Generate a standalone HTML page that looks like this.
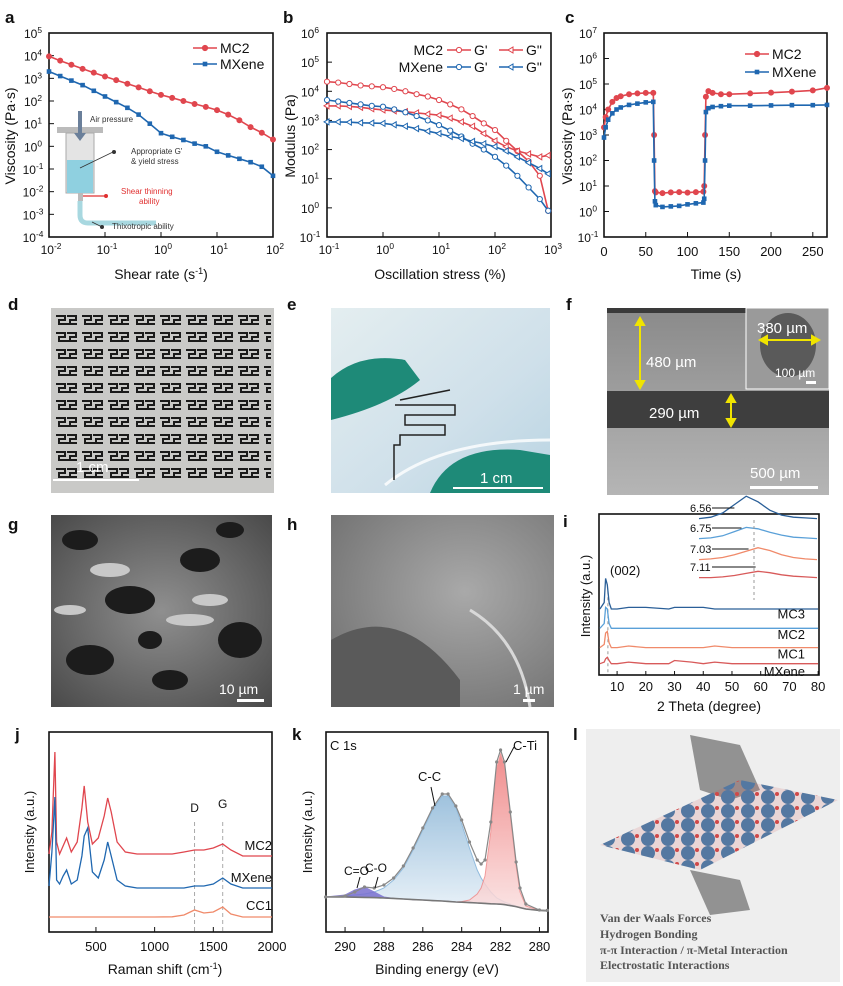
<!DOCTYPE html>
<html><head><meta charset="utf-8">
<style>
html,body{margin:0;padding:0;background:#fff;}
svg{display:block;font-family:"Liberation Sans",Arial,sans-serif;}
</style></head>
<body>
<svg id="fig" width="843" height="986" viewBox="0 0 843 986" xmlns="http://www.w3.org/2000/svg">
<defs>
<linearGradient id="gE" x1="0" y1="0" x2="1" y2="1"><stop offset="0" stop-color="#e4eef0"/><stop offset="0.6" stop-color="#cfe0ea"/><stop offset="1" stop-color="#b9d4e2"/></linearGradient>
<linearGradient id="gF" x1="0" y1="0" x2="0" y2="1"><stop offset="0" stop-color="#8a8a8a"/><stop offset="1" stop-color="#b5b5b5"/></linearGradient>
<radialGradient id="gG" cx="0.5" cy="0.5" r="0.7"><stop offset="0" stop-color="#8f8f8f"/><stop offset="1" stop-color="#4a4a4a"/></radialGradient>
<radialGradient id="gH" cx="0.6" cy="0.4" r="0.8"><stop offset="0" stop-color="#a9a9a9"/><stop offset="1" stop-color="#6e6e6e"/></radialGradient>
<linearGradient id="gCC" x1="0" y1="0" x2="0" y2="1"><stop offset="0" stop-color="#8fb8d8"/><stop offset="1" stop-color="#e6f0f8"/></linearGradient>
<linearGradient id="gTi" x1="0" y1="0" x2="0" y2="1"><stop offset="0" stop-color="#ee7b7b"/><stop offset="1" stop-color="#fbe0e0"/></linearGradient>
<pattern id="pS" x="53" y="312" width="26" height="17" patternUnits="userSpaceOnUse">
<path d="M3 4 h9 v4 h-6 v4 h10 M14 4 h9 v4 h-6 v4 h7" fill="none" stroke="#1a1a1a" stroke-width="2"/>
</pattern>
<pattern id="pBall" x="600" y="790" width="20" height="14" patternUnits="userSpaceOnUse">
<circle cx="8" cy="7" r="7" fill="#3f7fb0"/><circle cx="17" cy="4" r="2" fill="#d04848"/>
</pattern>
</defs>
</svg>
<script>
// ---------- data ----------
const aX = [-2,-1.8,-1.6,-1.4,-1.2,-1,-0.8,-0.6,-0.4,-0.2,0,0.2,0.4,0.6,0.8,1,1.2,1.4,1.6,1.8,2];
const aMC2 = [3.97,3.78,3.6,3.42,3.25,3.08,2.92,2.76,2.6,2.43,2.27,2.14,2.0,1.87,1.74,1.6,1.4,1.15,0.85,0.6,0.3];
const aMX = [3.3,3.1,2.9,2.7,2.45,2.2,1.95,1.7,1.4,1.0,0.58,0.42,0.28,0.12,0.0,-0.24,-0.4,-0.55,-0.7,-0.9,-1.3];
const bX = [-1,-0.8,-0.6,-0.4,-0.2,0,0.2,0.4,0.6,0.8,1,1.2,1.4,1.6,1.8,2,2.2,2.4,2.6,2.8,2.95];
const bMC2g1 = [4.33,4.3,4.25,4.2,4.17,4.14,4.08,4.0,3.9,3.82,3.7,3.55,3.38,3.15,2.9,2.67,2.3,1.95,1.6,1.1,-0.1];
const bMC2g2 = [3.5,3.5,3.48,3.45,3.4,3.36,3.33,3.3,3.26,3.22,3.18,3.08,2.95,2.8,2.55,2.3,2.1,1.95,1.85,1.75,1.8];
const bMXg1 = [3.7,3.65,3.6,3.55,3.5,3.47,3.38,3.28,3.15,3.0,2.84,2.65,2.45,2.2,2.0,1.75,1.45,1.1,0.7,0.3,-0.1];
const bMXg2 = [2.95,2.95,2.94,2.92,2.91,2.9,2.85,2.8,2.72,2.63,2.55,2.45,2.38,2.28,2.2,2.1,1.95,1.75,1.55,1.35,1.17];
const cT = [0,2,5,10,15,20,30,40,50,59,60,61,62,70,80,90,100,110,119,120,121,122,125,130,140,150,175,200,225,250,267];
const cMC2 = [3.3,3.7,4.0,4.3,4.45,4.52,4.6,4.63,4.65,4.65,3.0,0.8,0.75,0.72,0.75,0.76,0.74,0.76,0.78,1.0,3.0,4.5,4.72,4.65,4.6,4.6,4.63,4.66,4.7,4.75,4.85];
const cMX = [2.9,3.3,3.6,3.85,4.0,4.08,4.18,4.23,4.28,4.3,2.0,0.4,0.25,0.18,0.2,0.22,0.28,0.32,0.35,0.5,2.0,3.9,4.05,4.1,4.13,4.15,4.15,4.16,4.17,4.17,4.18];
const iX = [4,5.5,6,6.6,7.2,8,10,14,20,28,30,36,40,44,50,60,70,80];
const iMC3 = [0.41,0.45,0.6,0.56,0.45,0.41,0.41,0.42,0.42,0.41,0.42,0.42,0.42,0.41,0.41,0.41,0.41,0.41];
const iMC2 = [0.29,0.32,0.42,0.41,0.32,0.29,0.29,0.29,0.29,0.29,0.29,0.29,0.29,0.29,0.29,0.29,0.29,0.29];
const iMC1 = [0.17,0.19,0.26,0.27,0.2,0.17,0.17,0.18,0.17,0.17,0.17,0.17,0.17,0.18,0.17,0.17,0.17,0.17];
const iMX = [0.07,0.08,0.1,0.11,0.09,0.07,0.07,0.08,0.07,0.07,0.09,0.08,0.07,0.08,0.07,0.07,0.07,0.07];
const insX = [0,0.1,0.2,0.3,0.4,0.5,0.6,0.7,0.8,0.9,1];
const ins1 = [0.02,0.04,0.1,0.22,0.34,0.26,0.14,0.07,0.04,0.03,0.02];
const ins2 = [0.02,0.03,0.06,0.12,0.18,0.16,0.11,0.07,0.04,0.03,0.02];
const ins3 = [0.02,0.03,0.05,0.09,0.14,0.19,0.15,0.09,0.05,0.03,0.02];
const ins4 = [0.02,0.02,0.03,0.05,0.08,0.11,0.09,0.06,0.04,0.03,0.02];
const insLbl = ["6.56","6.75","7.03","7.11"];
const jX = [100,125,150,165,190,220,250,290,340,380,400,430,470,520,570,600,630,680,750,850,1000,1150,1250,1340,1420,1500,1580,1650,1750,1850,2000];
const jMC2 = [0.39,0.5,0.9,0.45,0.39,0.43,0.47,0.4,0.45,0.62,0.73,0.55,0.44,0.47,0.58,0.67,0.6,0.45,0.4,0.39,0.39,0.39,0.4,0.41,0.41,0.42,0.44,0.41,0.38,0.38,0.38];
const jMX = [0.23,0.4,0.675,0.26,0.24,0.28,0.31,0.24,0.26,0.38,0.48,0.52,0.3,0.27,0.36,0.45,0.38,0.26,0.23,0.22,0.22,0.22,0.22,0.23,0.23,0.24,0.27,0.24,0.22,0.22,0.22];
const jCC1 = [0.075,0.075,0.075,0.075,0.075,0.075,0.075,0.075,0.075,0.075,0.075,0.075,0.075,0.075,0.075,0.075,0.075,0.075,0.075,0.075,0.075,0.076,0.085,0.11,0.095,0.1,0.125,0.09,0.075,0.075,0.075];
const kX = [291,290,289.5,289,288.5,288,287.5,287,286.5,286,285.5,285,284.7,284.3,284,283.6,283.2,283,282.8,282.5,282.2,282,281.8,281.5,281.2,281,280.7,280,279.6];
const kEnv = [0.175,0.18,0.2,0.225,0.22,0.235,0.27,0.33,0.42,0.52,0.62,0.69,0.69,0.63,0.56,0.45,0.36,0.34,0.36,0.55,0.85,0.91,0.85,0.6,0.35,0.22,0.14,0.11,0.108];
const kBg = [0.175,0.175,0.174,0.173,0.172,0.17,0.168,0.165,0.162,0.16,0.157,0.155,0.153,0.15,0.149,0.147,0.145,0.144,0.143,0.141,0.14,0.139,0.137,0.132,0.127,0.122,0.115,0.108,0.106];
const kCC = [0.175,0.18,0.185,0.19,0.2,0.22,0.26,0.32,0.41,0.51,0.61,0.68,0.68,0.62,0.54,0.42,0.31,0.27,0.24,0.2,0.17,0.16,0.15,0.14,0.13,0.125,0.115,0.108,0.106];
const kTi = [0.175,0.175,0.174,0.173,0.172,0.17,0.168,0.165,0.162,0.16,0.157,0.155,0.153,0.15,0.152,0.16,0.19,0.22,0.28,0.5,0.82,0.89,0.83,0.58,0.33,0.2,0.13,0.108,0.106];
const kCO = [0.175,0.185,0.21,0.225,0.2,0.175,0.168,0.165,0.162,0.16,0.157,0.155,0.153,0.15,0.149,0.147,0.145,0.144,0.143,0.141,0.14,0.139,0.137,0.132,0.127,0.122,0.115,0.108,0.106];

// ---------- helpers ----------
const NS="http://www.w3.org/2000/svg";
const svg=document.getElementById('fig');
function mk(tag,at,parent){const e=document.createElementNS(NS,tag);for(const k in at)e.setAttribute(k,at[k]);(parent||svg).appendChild(e);return e;}
function txt(x,y,s,size,opt,parent){opt=opt||{};const e=mk('text',{x:x,y:y,'font-size':size,fill:opt.fill||'#111','text-anchor':opt.anchor||'start','font-weight':opt.weight||'normal'},parent);if(opt.family)e.setAttribute('font-family',opt.family);if(opt.rot)e.setAttribute('transform','rotate(-90 '+x+' '+y+')');e.textContent=s;return e;}
function lin(d0,d1,r0,r1){return v=>r0+(v-d0)*(r1-r0)/(d1-d0);}
function pathOf(xs,ys,fx,fy){return xs.map((v,i)=>(i?'L':'M')+fx(v).toFixed(1)+' '+fy(ys[i]).toFixed(1)).join(' ');}
function supTick(x,y,exp,size){const t=mk('text',{x:x,y:y,'font-size':size,fill:'#111','text-anchor':'middle'});t.appendChild(document.createTextNode('10'));const s=mk('tspan',{dy:-5,'font-size':size*0.7},t);s.textContent=exp;return t;}
function frame(x0,y0,x1,y1,name){const r=mk('rect',{x:x0,y:y0,width:x1-x0,height:y1-y0,fill:'none',stroke:'#111','stroke-width':1.6});return r;}
function panelLetter(x,y,s){const t=txt(x,y,s,17,{weight:'bold'});}

// ---------- panel a ----------
panelLetter(5,23,'a');
const aFx=lin(-2,2,49,273), aFy=lin(-4,5,237,33);
frame(49,33,273,237,'panel-a-plot-area');
for(let e=-4;e<=5;e++){const y=aFy(e);mk('line',{x1:49,x2:54,y1:y,y2:y,stroke:'#111'});const t=supTick(33,y+5,String(e),12);}
for(let e=-2;e<=2;e++){const x=aFx(e);mk('line',{x1:x,x2:x,y1:237,y2:232,stroke:'#111'});const t=supTick(x+2,254,String(e),12);}
{const t=txt(161,279,'Shear rate (s',14,{anchor:'middle'});const s=mk('tspan',{dy:-5,'font-size':9},t);s.textContent='-1';const s2=mk('tspan',{dy:5},t);s2.textContent=')';}
{const t=txt(15,136,'Viscosity (Pa·s)',14,{anchor:'middle',rot:true});}
// syringe inset
{const g=mk('g',{});
mk('rect',{x:57,y:127,width:46,height:6,fill:'#bbb'},g);
mk('rect',{x:66,y:133,width:28,height:60,fill:'#e4e4e4',stroke:'#aaa'},g);
mk('rect',{x:67,y:160,width:26,height:33,fill:'#8fd0e0'},g);
mk('path',{d:'M78 111 v22 l-4 0 l6 8 l6 -8 l-4 0 v-22z',fill:'#6a7f9a'},g);
mk('rect',{x:78,y:193,width:5,height:8,fill:'#bbb'},g);
mk('path',{d:'M80 201 v14 q0 8 8 8 h68',fill:'none',stroke:'#a8d8e0','stroke-width':5},g);
mk('line',{x1:80,y1:168,x2:113,y2:152,stroke:'#333','stroke-width':0.8},g);mk('circle',{cx:114,cy:152,r:2,fill:'#333'},g);
mk('line',{x1:83,y1:196,x2:106,y2:196,stroke:'#e03030','stroke-width':1.2},g);mk('circle',{cx:106,cy:196,r:2,fill:'#e03030'},g);
mk('line',{x1:92,y1:222,x2:102,y2:227,stroke:'#333','stroke-width':0.8},g);mk('circle',{cx:102,cy:227,r:2,fill:'#333'},g);
txt(90,122,'Air pressure',8,{fill:'#333'},g);
txt(131,154,"Appropriate G'",8,{fill:'#333'},g);txt(131,164,'& yield stress',8,{fill:'#333'},g);
txt(121,194,'Shear thinning',8,{fill:'#e03030'},g);txt(139,204,'ability',8,{fill:'#e03030'},g);
txt(112,229,'Thixotropic  ability',8,{fill:'#333'},g);}
function series(xs,ys,fx,fy,color,name,marker,open){
  const p=mk('path',{d:pathOf(xs,ys,fx,fy),fill:'none',stroke:color,'stroke-width':1.6});
  
  xs.forEach((v,i)=>{let m;
    if(marker==='sq'){m=mk('rect',{x:fx(v)-2.3,y:fy(ys[i])-2.3,width:4.6,height:4.6,fill:color});}
    else if(marker==='tri'){const x=fx(v),y=fy(ys[i]);m=mk('path',{d:`M${x-3} ${y} L${x+2} ${y-3} L${x+2} ${y+3}Z`,fill:'#fff',stroke:color,'stroke-width':1});}
    else {m=mk('circle',{cx:fx(v),cy:fy(ys[i]),r:open?2.6:2.5,fill:open?'#fff':color,stroke:color,'stroke-width':1});}
    
    });
}
series(aX,aMC2,aFx,aFy,'#e0464e','a-mc2','circ');
series(aX,aMX,aFx,aFy,'#1f67b0','a-mxene','sq');
function legendEntry(x,y,color,label,marker,name,open){const l=mk('line',{x1:x,x2:x+24,y1:y,y2:y,stroke:color,'stroke-width':1.6});
 if(marker==='sq')mk('rect',{x:x+9.7,y:y-2.3,width:4.6,height:4.6,fill:color});else if(marker==='tri')mk('path',{d:`M${x+9} ${y} L${x+14} ${y-3} L${x+14} ${y+3}Z`,fill:'#fff',stroke:color});else mk('circle',{cx:x+12,cy:y,r:2.6,fill:open?'#fff':color,stroke:color});
 if(label)txt(x+27,y+5,label,14);}
legendEntry(193,48,'#e0464e','MC2','circ','a-legend-mc2');
legendEntry(193,64,'#1f67b0','MXene','sq','a-legend-mxene');

// ---------- panel b ----------
panelLetter(283,23,'b');
const bFx=lin(-1,3,327,551), bFy=lin(-1,6,237,33);
frame(327,33,551,237,'panel-b-plot-area');
for(let e=-1;e<=6;e++){const y=bFy(e);mk('line',{x1:327,x2:332,y1:y,y2:y,stroke:'#111'});const t=supTick(310,y+5,String(e),12);}
for(let e=-1;e<=3;e++){const x=bFx(e);mk('line',{x1:x,x2:x,y1:237,y2:232,stroke:'#111'});const t=supTick(x+2,254,String(e),12);}
{const t=txt(440,279,'Oscillation stress (%)',14,{anchor:'middle'});}
{const t=txt(295,136,'Modulus (Pa)',14,{anchor:'middle',rot:true});}
series(bX,bMC2g1,bFx,bFy,'#e0464e','b-mc2-storage','circ',true);
series(bX,bMC2g2,bFx,bFy,'#e0464e','b-mc2-loss','tri');
series(bX,bMXg1,bFx,bFy,'#1f67b0','b-mxene-storage','circ',true);
series(bX,bMXg2,bFx,bFy,'#1f67b0','b-mxene-loss','tri');
txt(443,55,'MC2',14,{anchor:'end'});txt(443,72,'MXene',14,{anchor:'end'});
legendEntry(447,50,'#e0464e',"G'",'circ','b-legend-mc2-g1',true);
legendEntry(499,50,'#e0464e','G"','tri','b-legend-mc2-g2');
legendEntry(447,67,'#1f67b0',"G'",'circ','b-legend-mxene-g1',true);
legendEntry(499,67,'#1f67b0','G"','tri','b-legend-mxene-g2');

// ---------- panel c ----------
panelLetter(565,23,'c');
const cFx=lin(0,267,604,827), cFy=lin(-1,7,237,33);
frame(604,33,827,237,'panel-c-plot-area');
for(let e=-1;e<=7;e++){const y=cFy(e);mk('line',{x1:604,x2:609,y1:y,y2:y,stroke:'#111'});const t=supTick(588,y+5,String(e),12);}
[0,50,100,150,200,250].forEach(v=>{const x=cFx(v);mk('line',{x1:x,x2:x,y1:237,y2:232,stroke:'#111'});const t=txt(x,256,String(v),13,{anchor:'middle'});});
{const t=txt(716,279,'Time (s)',14,{anchor:'middle'});}
{const t=txt(572,136,'Viscosity (Pa·s)',14,{anchor:'middle',rot:true});}
series(cT,cMC2,cFx,cFy,'#e0464e','c-mc2','circ');
series(cT,cMX,cFx,cFy,'#1f67b0','c-mxene','sq');
legendEntry(745,54,'#e0464e','MC2','circ','c-legend-mc2');
legendEntry(745,72,'#1f67b0','MXene','sq','c-legend-mxene');

// ---------- photos row ----------
panelLetter(8,310,'d');panelLetter(287,310,'e');panelLetter(566,310,'f');
{const g=mk('g',{});
mk('rect',{x:51,y:308,width:223,height:185,fill:'#c9c9c7'},g);
mk('rect',{x:55,y:312,width:216,height:172,fill:'url(#pS)'},g);
mk('line',{x1:53,y1:480,x2:139,y2:480,stroke:'#fff','stroke-width':2},g);
txt(76,472,'1 cm',15,{fill:'#fff'},g);}
{const g=mk('g',{});
mk('rect',{x:331,y:308,width:219,height:185,fill:'url(#gE)'},g);
mk('path',{d:'M331 378 Q360 352 405 360 L420 380 Q390 405 331 420Z',fill:'#1e8a78'},g);
mk('path',{d:'M430 493 Q450 445 520 450 L550 455 L550 493Z',fill:'#1e8a78'},g);
mk('path',{d:'M385 485 Q440 440 550 440',fill:'none',stroke:'#fff','stroke-width':3,opacity:0.8},g);
mk('path',{d:'M395 405 h60 v10 h-50 v10 h40 v10 h-45 v10 h-6 v35 M400 400 l50 -10',fill:'none',stroke:'#222','stroke-width':1.5},g);
mk('line',{x1:453,y1:488,x2:543,y2:488,stroke:'#fff','stroke-width':2},g);
txt(480,483,'1 cm',15,{fill:'#fff'},g);}
{const g=mk('g',{});
mk('rect',{x:607,y:308,width:222,height:187,fill:'url(#gF)'},g);
mk('rect',{x:607,y:308,width:222,height:5,fill:'#3a3a3a'},g);
mk('rect',{x:607,y:391,width:222,height:37,fill:'#3e3e3e'},g);
mk('rect',{x:746,y:308,width:83,height:81,fill:'#9a9a9a',stroke:'#fff'},g);
mk('ellipse',{cx:788,cy:345,rx:28,ry:32,fill:'#5a5a5a'},g);
mk('path',{d:'M640 318 V388 M640 318 l-4 7 h8z M640 388 l-4 -7 h8z',stroke:'#f0e400',fill:'#f0e400','stroke-width':2},g);
mk('path',{d:'M731 395 V426 M731 395 l-4 7 h8z M731 426 l-4 -7 h8z',stroke:'#f0e400',fill:'#f0e400','stroke-width':2},g);
mk('path',{d:'M760 340 H819 M760 340 l7 -4 v8z M819 340 l-7 -4 v8z',stroke:'#f0e400',fill:'#f0e400','stroke-width':2},g);
txt(646,367,'480 µm',15,{fill:'#fff'},g);txt(649,418,'290 µm',15,{fill:'#fff'},g);
txt(757,333,'380 µm',15,{fill:'#fff'},g);txt(775,377,'100 µm',12,{fill:'#fff'},g);
mk('rect',{x:806,y:381,width:10,height:3,fill:'#fff'},g);
txt(750,478,'500 µm',15,{fill:'#fff'},g);mk('rect',{x:750,y:486,width:68,height:3,fill:'#fff'},g);}

// ---------- row 3 ----------
panelLetter(8,530,'g');panelLetter(287,530,'h');
{const g=mk('g',{});
mk('rect',{x:51,y:515,width:221,height:192,fill:'url(#gG)'},g);
[[80,540,18,10],[130,600,25,14],[200,560,20,12],[240,640,22,18],[90,660,24,15],[170,680,18,10],[230,530,14,8],[150,640,12,9]].forEach(c=>mk('ellipse',{cx:c[0],cy:c[1],rx:c[2],ry:c[3],fill:'#1c1c1c'},g));
[[110,570,20,7],[190,620,24,6],[70,610,16,5],[210,600,18,6]].forEach(c=>mk('ellipse',{cx:c[0],cy:c[1],rx:c[2],ry:c[3],fill:'#c8c8c8'},g));
txt(219,694,'10 µm',14,{fill:'#fff'},g);mk('rect',{x:237,y:699,width:27,height:3,fill:'#fff'},g);}
{const g=mk('g',{});
mk('rect',{x:331,y:515,width:223,height:192,fill:'url(#gH)'},g);
mk('path',{d:'M331 640 Q400 600 460 680 L460 707 L331 707Z',fill:'#5a5a5a'},g);
mk('path',{d:'M470 610 Q520 640 530 707',fill:'none',stroke:'#d8d8d8','stroke-width':3},g);
txt(513,694,'1 µm',14,{fill:'#fff'},g);mk('rect',{x:523,y:699,width:12,height:3,fill:'#fff'},g);}

// ---------- panel i ----------
panelLetter(563,527,'i');
const iFx=lin(3.7,80.3,599,819), iFy=lin(0,1,675,514);
frame(599,514,819,675,'panel-i-plot-area');
[10,20,30,40,50,60,70,80].forEach(v=>{const x=iFx(v);mk('line',{x1:x,x2:x,y1:675,y2:671,stroke:'#111'});const t=txt(x,691,String(v),13,{anchor:'middle'});});
{const t=txt(709,711,'2 Theta (degree)',14,{anchor:'middle'});}
{const t=txt(590,596,'Intensity (a.u.)',13,{anchor:'middle',rot:true});}
mk('line',{x1:iFx(6.8),x2:iFx(6.8),y1:iFy(0.52),y2:675,stroke:'#999','stroke-dasharray':'3,3'});
[[iMC3,'#2a5f98','mc3','MC3',0.34],[iMC2,'#5aa0d8','mc2','MC2',0.21],[iMC1,'#f08a6a','mc1','MC1',0.09],[iMX,'#d85a5a','mxene','MXene',-0.02]].forEach(s=>{
 const p=mk('path',{d:pathOf(iX,s[0],iFx,iFy),fill:'none',stroke:s[1],'stroke-width':1.3});
 
 const t=txt(805,iFy(s[4])-2,s[3],13,{anchor:'end'});});
txt(610,iFy(0.62),'(002)',13);
{const iiFx=lin(0,1,699,817);const base=[520,540,561,579];const cols=['#2a5f98','#5aa0d8','#f08a6a','#d85a5a'];
 [ins1,ins2,ins3,ins4].forEach((arr,k)=>{const fy=v=>base[k]-v*70;const p=mk('path',{d:pathOf(insX,arr,iiFx,fy),fill:'none',stroke:cols[k],'stroke-width':1.3});
  
  const t=txt(690,base[k]-8,insLbl[k],11,{});
  mk('line',{x1:712,x2:iiFx(0.3+k*0.06),y1:base[k]-12,y2:base[k]-12,stroke:'#111'});});
 mk('line',{x1:754,x2:754,y1:520,y2:600,stroke:'#999','stroke-dasharray':'3,3'});}

// ---------- panel j ----------
panelLetter(15,740,'j');
const jFx=lin(100,2000,49,272), jFy=lin(0,1,932,732);
frame(49,732,272,932,'panel-j-plot-area');
[500,1000,1500,2000].forEach(v=>{const x=jFx(v);mk('line',{x1:x,x2:x,y1:932,y2:927,stroke:'#111'});const t=txt(x,951,String(v),13,{anchor:'middle'});});
{const t=txt(165,974,'Raman shift (cm',14,{anchor:'middle'});const s=mk('tspan',{dy:-5,'font-size':9},t);s.textContent='-1';const s2=mk('tspan',{dy:5},t);s2.textContent=')';}
{const t=txt(34,832,'Intensity (a.u.)',13,{anchor:'middle',rot:true});}
[1340,1580].forEach(v=>mk('line',{x1:jFx(v),x2:jFx(v),y1:jFy(0.55),y2:932,stroke:'#aaa','stroke-dasharray':'4,3'}));
txt(jFx(1340),jFy(0.6),'D',12,{anchor:'middle'});txt(jFx(1580),jFy(0.62),'G',12,{anchor:'middle'});
[[jMC2,'#e0464e','mc2','MC2',0.43],[jMX,'#1f67b0','mxene','MXene',0.27],[jCC1,'#f08a6a','cc1','CC1',0.13]].forEach(s=>{
 const p=mk('path',{d:pathOf(jX,s[0],jFx,jFy),fill:'none',stroke:s[1],'stroke-width':1.3});
 
 const t=txt(272,jFy(s[4])+4,s[3],13,{anchor:'end'});});

// ---------- panel k ----------
panelLetter(292,740,'k');
const kFx=lin(290.98,279.56,326,548), kFy=lin(0,1,932,732);
frame(326,732,548,932,'panel-k-plot-area');
[290,288,286,284,282,280].forEach(v=>{const x=kFx(v);mk('line',{x1:x,x2:x,y1:932,y2:927,stroke:'#111'});const t=txt(x,951,String(v),13,{anchor:'middle'});});
{const t=txt(437,974,'Binding energy (eV)',14,{anchor:'middle'});}
{const t=txt(312,832,'Intensity (a.u.)',13,{anchor:'middle',rot:true});}
function fillBetween(ys,color,name,stroke){const top=pathOf(kX,ys,kFx,kFy);const back=kX.slice().reverse().map((v,i)=>'L'+kFx(v).toFixed(1)+' '+kFy(kBg[kX.length-1-i]).toFixed(1)).join(' ');
 const p=mk('path',{d:top+' '+back+' Z',fill:color,stroke:stroke,'stroke-width':1,opacity:0.85});}
fillBetween(kCC,'url(#gCC)','k-cc-component','#7fb0d8');
fillBetween(kTi,'url(#gTi)','k-cti-component','#f08a8a');
fillBetween(kCO,'#7a70d0','k-co-component','#7a70d0');
{const p=mk('path',{d:pathOf(kX,kBg,kFx,kFy),fill:'none',stroke:'#777','stroke-width':1.6});}
{const p=mk('path',{d:pathOf(kX,kEnv,kFx,kFy),fill:'none',stroke:'#888','stroke-width':1.2});
 kX.forEach((v,i)=>{const c=mk('circle',{cx:kFx(v),cy:kFy(kEnv[i]),r:1.6,fill:'#888'});});}
txt(330,750,'C 1s',13);txt(418,781,'C-C',13);txt(513,750,'C-Ti',13);txt(344,875,'C=O',12);txt(365,872,'C-O',12);
mk('line',{x1:431,y1:787,x2:435,y2:806,stroke:'#111'});mk('line',{x1:514,y1:747,x2:506,y2:762,stroke:'#111'});
mk('line',{x1:360,y1:877,x2:357,y2:888,stroke:'#111'});mk('line',{x1:378,y1:877,x2:375,y2:888,stroke:'#111'});

// ---------- panel l ----------
panelLetter(573,740,'l');
{const g=mk('g',{});
mk('rect',{x:586,y:729,width:254,height:253,fill:'#eeeeee'},g);
mk('path',{d:'M690 735 L740 745 L760 790 L730 800 L700 790Z',fill:'#555',opacity:0.6},g);
mk('path',{d:'M600 845 L740 780 L838 800 L700 870Z',fill:'url(#pBall)'},g);
mk('path',{d:'M600 845 L740 780 L838 800 L700 870Z',fill:'#d05050',opacity:0.15},g);
mk('path',{d:'M690 870 L740 880 L750 910 L710 915Z',fill:'#555',opacity:0.6},g);
[['Van der Waals Forces',922],['Hydrogen Bonding',938],['π-π Interaction / π-Metal Interaction',954],['Electrostatic Interactions',969]].forEach(r=>{const t=txt(600,r[1],r[0],12,{fill:'#555',weight:'bold',family:'"Liberation Serif",serif'},g);});}
</script>
</body></html>
